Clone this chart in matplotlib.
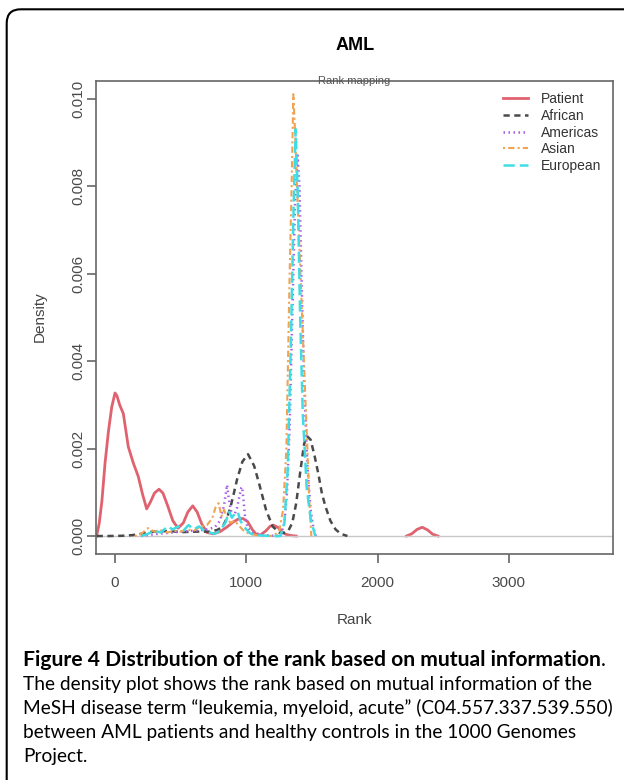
import numpy as np
import matplotlib.pyplot as plt
from matplotlib import font_manager
from matplotlib.patches import FancyBboxPatch
from matplotlib.transforms import IdentityTransform
from matplotlib.ticker import FormatStrFormatter

# density curves (rank, density)
patient_x = [-140, -120, -100, -76, -50, -25, 0, 15, 35, 63, 101, 139, 177, 210, 241, 270, 300, 335,
             365, 400, 440, 480, 520, 555, 592, 625, 660, 700, 750, 800, 850, 900, 940, 975, 1010,
             1045, 1078, 1110, 1150, 1180, 1205, 1240, 1270, 1300, 1340, 1380]
patient_y = [0, 0.0003, 0.0008, 0.00167, 0.0024, 0.00295, 0.00327, 0.0032, 0.003, 0.0028, 0.00204,
             0.00167, 0.00136, 0.00095, 0.00062, 0.00078, 0.00098, 0.00107, 0.00098, 0.0007, 0.00035,
             0.00018, 0.0003, 0.00055, 0.00069, 0.00055, 0.00028, 0.00008, 0.00005, 0.0001, 0.0002,
             0.00032, 0.00039, 0.0004, 0.00033, 0.00015, 0.00003, 0.00003, 0.00012, 0.00022, 0.00025,
             0.0002, 0.0001, 0.00004, 0.00001, 0]
patient_x2 = [2220, 2260, 2300, 2340, 2380, 2420, 2460]
patient_y2 = [0, 0.00005, 0.00015, 0.0002, 0.00014, 0.00004, 0]

african_x = [-140, -50, 50, 130, 200, 260, 330, 420, 520, 620, 723, 780, 822, 850, 876, 899, 930,
             970, 1013, 1060, 1100, 1150, 1200, 1250, 1285, 1320, 1350, 1380, 1410, 1440, 1460, 1490,
             1520, 1550, 1574, 1600, 1640, 1680, 1720, 1770]
african_y = [0, 0, 0.000005, 0.00002, 0.00005, 0.00009, 0.00011, 0.00011, 0.00009, 0.0001, 0.0001,
             0.00014, 0.00022, 0.0004, 0.00062, 0.0009, 0.0013, 0.0017, 0.00187, 0.0016, 0.00117,
             0.0006, 0.00022, 0.00008, 0.00007, 0.00012, 0.0003, 0.00075, 0.00145, 0.0021, 0.00229,
             0.0022, 0.00183, 0.0014, 0.001, 0.0007, 0.00035, 0.00015, 0.00005, 0]

americas_x = [200, 300, 400, 500, 600, 700, 760, 800, 830, 845, 853, 862, 880, 905, 930, 950, 962,
              968, 976, 990, 1010, 1050, 1100, 1180, 1260, 1290, 1310, 1330, 1350, 1370, 1390, 1405,
              1420, 1440, 1465, 1490, 1510, 1530]
americas_y = [0, 0.00004, 0.00007, 0.0001, 0.00012, 0.00015, 0.0002, 0.00035, 0.0007, 0.001, 0.00117,
              0.00095, 0.0006, 0.00045, 0.00065, 0.00095, 0.0011, 0.00112, 0.0009, 0.00045, 0.00018,
              0.00008, 0.00004, 0.00001, 0, 0.0003, 0.001, 0.0025, 0.005, 0.0075, 0.0087, 0.008,
              0.006, 0.0035, 0.0016, 0.0006, 0.0002, 0]

asian_x = [150, 200, 250, 300, 350, 400, 450, 500, 550, 600, 650, 700, 740, 765, 790, 810, 830, 855,
           880, 910, 940, 970, 1000, 1040, 1080, 1130, 1200, 1250, 1280, 1305, 1330, 1345, 1358,
           1372, 1386, 1410, 1440, 1465, 1480, 1495]
asian_y = [0, 0.00005, 0.00018, 0.0001, 0.00013, 0.00008, 0.00012, 0.0001, 0.00015, 0.00012, 0.00022,
           0.00025, 0.0004, 0.00065, 0.00075, 0.00045, 0.0006, 0.0004, 0.0003, 0.00035, 0.00025,
           0.00015, 0.00008, 0.00004, 0.00002, 0.00001, 0, 0.0001, 0.0006, 0.002, 0.006, 0.008,
           0.0101, 0.0092, 0.008, 0.0062, 0.0039, 0.002, 0.0008, 0]

european_x = [200, 250, 300, 350, 400, 440, 480, 520, 560, 600, 640, 680, 720, 760, 800, 840, 870,
              890, 910, 935, 955, 975, 1000, 1030, 1070, 1120, 1200, 1260, 1290, 1315, 1340, 1360,
              1376, 1392, 1410, 1430, 1460, 1490, 1525]
european_y = [0, 0.00005, 0.00012, 0.00008, 0.00022, 0.00015, 0.00022, 0.00012, 0.00025, 0.00015,
              0.00022, 0.00012, 0.00008, 0.00005, 0.00012, 0.0003, 0.00055, 0.00042, 0.0005, 0.00055,
              0.00035, 0.00025, 0.00015, 0.00006, 0.00003, 0.00001, 0, 0, 0.0003, 0.0015, 0.0045,
              0.0075, 0.0093, 0.0078, 0.005, 0.0028, 0.0011, 0.0004, 0]

x_ticks = [0, 1000, 2000, 3000]
y_ticks = [0.000, 0.002, 0.004, 0.006, 0.008, 0.010]

caption_bold = "Figure 4 Distribution of the rank based on mutual information"
caption_lines = [
    "The density plot shows the rank based on mutual information of the",
    "MeSH disease term \u201cleukemia, myeloid, acute\u201d (C04.557.337.539.550)",
    "between AML patients and healthy controls in the 1000 Genomes",
    "Project.",
]

W, H = 624, 780
plt.rcParams['font.family'] = ['Liberation Sans', 'DejaVu Sans']
names = {f.name for f in font_manager.fontManager.ttflist}
cap_font = next((n for n in ['Lato', 'Open Sans', 'Noto Sans'] if n in names), 'DejaVu Sans')

fig = plt.figure(figsize=(W / 100, H / 100), dpi=100)
ax = fig.add_axes([96 / W, 1 - 554 / H, (613 - 96) / W, (554 - 80.7) / H])

ax.plot(patient_x, patient_y, color='#e0626f', lw=2, zorder=2, label='Patient')
ax.plot(patient_x2, patient_y2, color='#e0626f', lw=2, zorder=2)
ax.axhline(0, color='#c8c8c8', lw=1, zorder=2.5)
ax.plot(african_x, african_y, color='#4a4a4a', lw=1.8, ls=(0, (2.5, 1.8)), zorder=3, label='African')
ax.plot(americas_x, americas_y, color='#a45ee6', lw=1.8, ls=(0, (0.6, 1.4)), zorder=3, label='Americas')
ax.plot(asian_x, asian_y, color='#f2a352', lw=1.5, ls=(0, (1, 1.5, 3, 1.5)), zorder=3, label='Asian')
ax.plot(european_x, european_y, color='#3fdde3', lw=1.8, ls=(0, (4.5, 2)), zorder=3, label='European')

ax.set_xlim(-145, 3793)
ax.set_ylim(-0.000411, 0.010407)
ax.set_xticks(x_ticks)
ax.set_yticks(y_ticks)
ax.yaxis.set_major_formatter(FormatStrFormatter('%.3f'))
for s in ax.spines.values():
    s.set_color('#666666')
    s.set_linewidth(1.2)
ax.tick_params(length=6.5, width=1.2, color='#666666', labelcolor='#4a4a4a', labelsize=11)
ax.tick_params(axis='x', pad=9)
ax.tick_params(axis='y', pad=1)
plt.setp(ax.get_yticklabels(), rotation=90, va='center')

leg = ax.legend(loc='upper left', bbox_to_anchor=(503 / W, 1 - 92 / H), bbox_transform=fig.transFigure,
                frameon=False, fontsize=10, handlelength=1.8, handletextpad=0.95, labelspacing=0.2,
                borderpad=0, borderaxespad=0)
for t in leg.get_texts():
    t.set_color('#333333')

# clipped subtitle smudge on the top frame line
ax.text(0.5, 1.0, "Rank mapping", transform=ax.transAxes, ha='center', va='center',
        fontsize=8, color='#555555')

fig.text(355 / W, 1 - 46 / H, "AML", ha='center', va='center', fontsize=13, fontweight='bold')
fig.text(40 / W, 1 - 317 / H, "Density", ha='center', va='center', rotation=90, fontsize=11,
         color='#444444')
fig.text(355 / W, 1 - 620 / H, "Rank", ha='center', va='center', fontsize=11, color='#444444')

# rounded frame of the figure panel
frame = FancyBboxPatch((6.7, -60), 720, (H - 9.3) + 60, boxstyle='round,pad=0,rounding_size=14',
                       transform=IdentityTransform(), fill=False, lw=1.5, ec='black')
fig.add_artist(frame)

# caption
renderer = fig.canvas.get_renderer()
y0 = 660
t_b = fig.text(23 / W, 1 - y0 / H, caption_bold, ha='left', va='center', fontsize=14,
               fontweight='bold', family=cap_font, color='black')
wb = t_b.get_window_extent(renderer).width
t_b.set_fontsize(14 * 584 / wb)
bb = t_b.get_window_extent(renderer)
fig.text(bb.x1 / W, 1 - y0 / H, ".", ha='left', va='center', fontsize=t_b.get_fontsize(),
         family=cap_font)

t_ref = fig.text(23 / W, 1 - (y0 + 24.2) / H, caption_lines[0], ha='left', va='center',
                 fontsize=14, family=cap_font, color='black')
w1 = t_ref.get_window_extent(renderer).width
fs = 14 * 571 / w1
t_ref.set_fontsize(fs)
for i, line in enumerate(caption_lines[1:], start=2):
    fig.text(23 / W, 1 - (y0 + 24.2 * i) / H, line, ha='left', va='center', fontsize=fs,
             family=cap_font, color='black')

fig.savefig('out.png', dpi=100)
